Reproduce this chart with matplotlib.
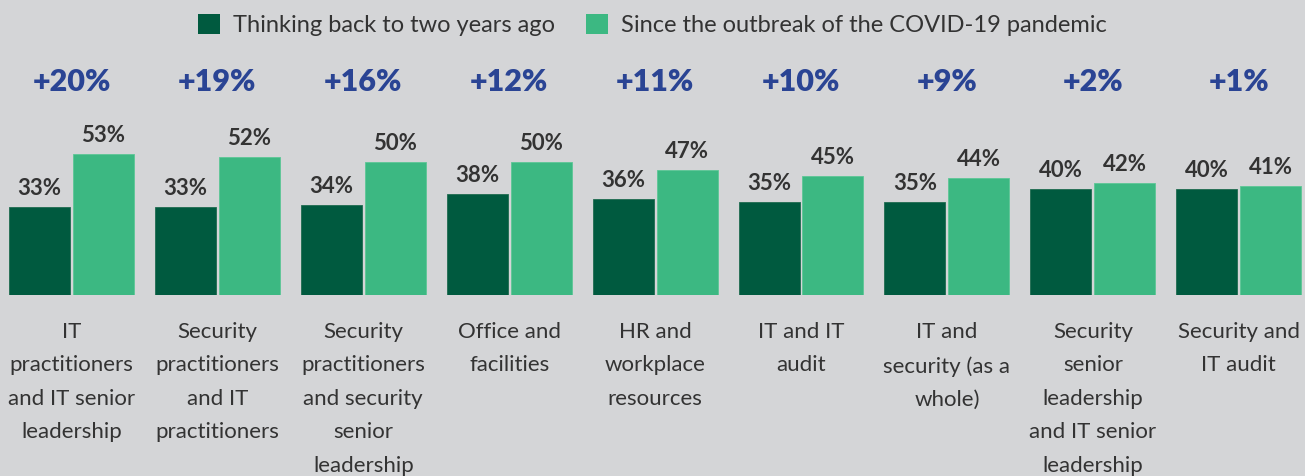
import matplotlib
matplotlib.use("Agg")
import matplotlib.pyplot as plt
from matplotlib.patches import Patch
import numpy as np

categories = [
    "IT\npractitioners\nand IT senior\nleadership",
    "Security\npractitioners\nand IT\npractitioners",
    "Security\npractitioners\nand security\nsenior\nleadership",
    "Office and\nfacilities",
    "HR and\nworkplace\nresources",
    "IT and IT\naudit",
    "IT and\nsecurity (as a\nwhole)",
    "Security\nsenior\nleadership\nand IT senior\nleadership",
    "Security and\nIT audit",
]
two_years_ago = [33, 33, 34, 38, 36, 35, 35, 40, 40]
since_covid = [53, 52, 50, 50, 47, 45, 44, 42, 41]
change_labels = ["+20%", "+19%", "+16%", "+12%", "+11%", "+10%", "+9%", "+2%", "+1%"]
series_names = ["Thinking back to two years ago", "Since the outbreak of the COVID-19 pandemic"]

BG = "#d4d5d7"
DARK = "#005a3f"
LIGHT = "#3cb882"
BLUE = "#2a4494"
TXT = "#333333"
FONT = "Lato"

W, H = 1305, 476
fig = plt.figure(figsize=(W / 100, H / 100), dpi=100, facecolor=BG)
ax = fig.add_axes([0, (H - 295) / H, 1, (295 - 60) / H])
ax.set_facecolor(BG)

x = np.arange(len(categories))
bw = 0.418
off = 0.219
ax.bar(x - off, two_years_ago, width=bw, color=DARK, edgecolor="#1f6b50", linewidth=0.6)
ax.bar(x + off, since_covid, width=bw, color=LIGHT, edgecolor="#5cc796", linewidth=0.6)

ax.set_xlim(-71.5 / 145.9, (W - 71.5) / 145.9)
ax.set_ylim(0, 235 / 2.655)

for xi, v in zip(x - off, two_years_ago):
    ax.annotate(f"{v}%", (xi, v), xytext=(0, 8), textcoords="offset pixels",
                ha="center", va="bottom", fontsize=16, fontweight="bold",
                color=TXT, family=FONT)
for xi, v in zip(x + off, since_covid):
    ax.annotate(f"{v}%", (xi, v), xytext=(0, 8), textcoords="offset pixels",
                ha="center", va="bottom", fontsize=16, fontweight="bold",
                color=TXT, family=FONT)
for xi, lab in zip(x, change_labels):
    ax.text(xi, (295 - 82) / 2.655, lab, ha="center", va="center", fontsize=22,
            fontweight="heavy", color=BLUE, family=FONT, clip_on=False)

ax.set_xticks(x)
ax.set_xticklabels(categories, fontsize=16, color=TXT, family=FONT, linespacing=1.835,
                   va="top")
ax.tick_params(axis="x", length=0, pad=19.5)
ax.set_yticks([])
for s in ax.spines.values():
    s.set_visible(False)

handles = [Patch(facecolor=DARK, edgecolor="none"), Patch(facecolor=LIGHT, edgecolor="none")]
leg = fig.legend(handles, series_names, loc="center", bbox_to_anchor=(0.5, 1 - 25 / H),
                 ncol=2, frameon=False, handlelength=0.95, handleheight=0.95,
                 handletextpad=0.55, columnspacing=1.3, prop={"family": FONT, "size": 17})
for t in leg.get_texts():
    t.set_color(TXT)

fig.savefig("out.png", dpi=100, facecolor=BG)
